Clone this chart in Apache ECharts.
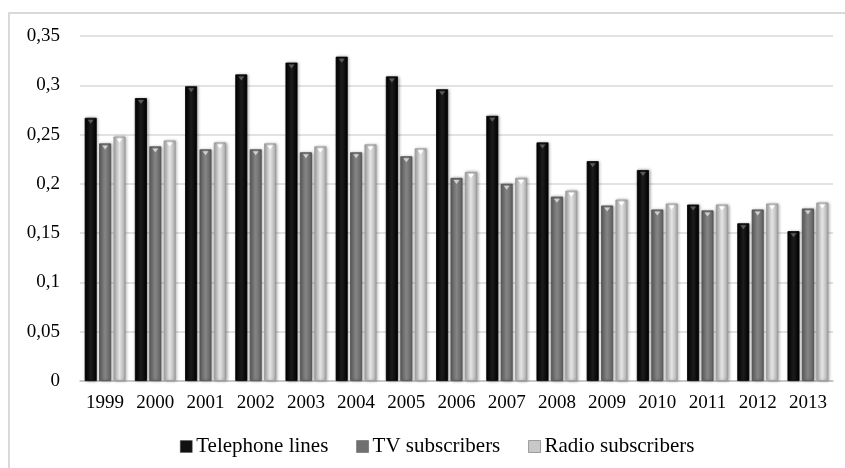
<!DOCTYPE html>
<html>
<head>
<meta charset="utf-8">
<script src="https://cdn.jsdelivr.net/npm/echarts@6/dist/echarts.min.js"></script>
<style>
  html, body { margin: 0; padding: 0; background: #fff; }
  #chart { width: 845px; height: 468px; }
</style>
</head>
<body>
<div id="chart"></div>
<script>
// Years on the category axis
const years = ['1999','2000','2001','2002','2003','2004','2005','2006','2007','2008','2009','2010','2011','2012','2013'];

// Indicator values per year
const telephoneLines = [0.267, 0.287, 0.299, 0.311, 0.323, 0.329, 0.309, 0.296, 0.269, 0.242, 0.223, 0.214, 0.179, 0.160, 0.152];
const tvSubscribers = [0.241, 0.238, 0.235, 0.235, 0.232, 0.232, 0.228, 0.206, 0.200, 0.187, 0.178, 0.174, 0.173, 0.174, 0.175];
const radioSubscribers = [0.248, 0.244, 0.242, 0.241, 0.238, 0.240, 0.236, 0.212, 0.206, 0.193, 0.184, 0.180, 0.179, 0.180, 0.181];

const seriesNames = ['Telephone lines', 'TV subscribers', 'Radio subscribers'];

const FONT = '"Liberation Serif", "Times New Roman", serif';
const BAR_W = 12;
const BAR_GAP = '20%';

// Horizontal shading gives each bar a rounded, bevelled look
function shade(edge, mid) {
  return new echarts.graphic.LinearGradient(0, 0, 1, 0, [
    { offset: 0, color: edge },
    { offset: 0.5, color: mid },
    { offset: 1, color: edge }
  ]);
}

const styles = [
  { fill: shade('#000000', '#1c1c1c'), border: '#000000', legend: '#111111', notch: '#5a5a5a' },
  { fill: shade('#5f5f5f', '#858585'), border: '#4f4f4f', legend: '#707070', notch: '#d0d0d0' },
  { fill: shade('#a9a9a9', '#e4e4e4'), border: '#9a9a9a', legend: '#c8c8c8', notch: '#ffffff' }
];

function fmt(v) {
  return String(+v.toFixed(2)).replace('.', ',');
}

const dataSets = [telephoneLines, tvSubscribers, radioSubscribers];

const barSeries = seriesNames.map((name, i) => ({
  name,
  type: 'bar',
  data: dataSets[i],
  barWidth: BAR_W,
  barGap: BAR_GAP,
  itemStyle: {
    color: styles[i].fill,
    borderColor: styles[i].border,
    borderWidth: 0.8,
    shadowColor: 'rgba(0,0,0,0.35)',
    shadowBlur: 3,
    shadowOffsetX: 1,
    shadowOffsetY: 0
  }
}));

// Small bevel notch at the top of each bar
const notchSeries = seriesNames.map((name, i) => ({
  name: name + ' top',
  type: 'pictorialBar',
  data: dataSets[i],
  barWidth: BAR_W,
  barGap: BAR_GAP,
  symbol: 'path://M0,0 L10,0 L5,6 Z',
  symbolSize: [6, 4],
  symbolPosition: 'end',
  symbolOffset: [0, 2],
  itemStyle: { color: styles[i].notch },
  silent: true,
  z: 3
}));

const chart = echarts.init(document.getElementById('chart'), null, { renderer: 'canvas' });

chart.setOption({
  backgroundColor: '#ffffff',
  animation: false,
  textStyle: { fontFamily: FONT },
  graphic: [{
    type: 'rect',
    shape: { x: 9, y: 13, width: 900, height: 500 },
    style: { fill: 'none', stroke: '#d9d9d9', lineWidth: 2 },
    silent: true,
    z: -1
  }],
  grid: { left: 80, right: 12, top: 36, bottom: 87, containLabel: false },
  legend: {
    top: 431,
    left: 175,
    itemWidth: 12,
    itemHeight: 12,
    itemGap: 28,
    icon: 'rect',
    textStyle: { fontFamily: FONT, fontSize: 21, color: '#000', padding: [0, 0, 0, -1] },
    data: seriesNames.map((n, i) => ({ name: n, itemStyle: { color: styles[i].legend, borderColor: '#555', borderWidth: 0.5 } }))
  },
  xAxis: {
    type: 'category',
    data: years,
    axisLine: { lineStyle: { color: '#bfbfbf', width: 1.5 } },
    axisTick: { show: false },
    axisLabel: { fontFamily: FONT, fontSize: 19, color: '#000', margin: 13 }
  },
  yAxis: {
    type: 'value',
    min: 0,
    max: 0.35,
    interval: 0.05,
    axisLine: { show: false },
    axisTick: { show: false },
    splitLine: { lineStyle: { color: '#d9d9d9', width: 1.5 } },
    axisLabel: { fontFamily: FONT, fontSize: 19, color: '#000', margin: 20, formatter: fmt }
  },
  series: barSeries.concat(notchSeries)
});
</script>
</body>
</html>
